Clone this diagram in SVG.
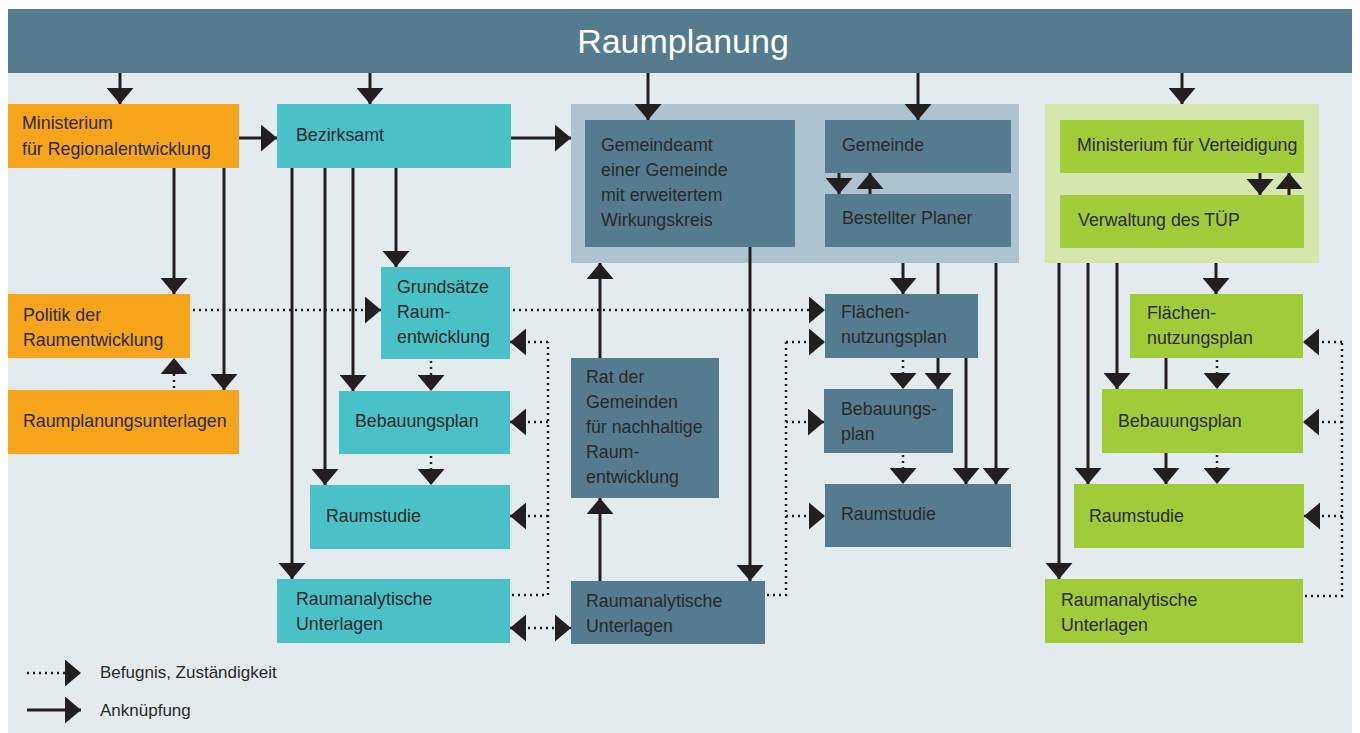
<svg xmlns="http://www.w3.org/2000/svg" width="1360" height="733" viewBox="0 0 1360 733">
<defs>
<style>
.t{font-family:"Liberation Sans",Arial,sans-serif;font-size:17.8px;fill:#2a2a2a}
.lg{font-family:"Liberation Sans",Arial,sans-serif;font-size:17px;fill:#2a2a2a}
.title{font-family:"Liberation Sans",Arial,sans-serif;font-size:34px;fill:#ffffff}
.or{fill:#f7a41d}.te{fill:#49c1c7}.sl{fill:#557b8f}.lsl{fill:#adc4d0}.lgr{fill:#d5e7ae}.gr{fill:#a2cb3a}
.s{stroke:#231f20;stroke-width:3;fill:none}
.d{stroke:#231f20;stroke-width:2.5;fill:none;stroke-dasharray:2 4}
</style>
<marker id="a" viewBox="0 0 16 27" refX="16" refY="13.5" markerWidth="16" markerHeight="27" markerUnits="userSpaceOnUse" orient="auto">
<path d="M0,0 L16,13.5 L0,27 Z" fill="#231f20"/>
</marker>
<marker id="as" viewBox="0 0 16 27" refX="0" refY="13.5" markerWidth="16" markerHeight="27" markerUnits="userSpaceOnUse" orient="auto">
<path d="M16,0 L0,13.5 L16,27 Z" fill="#231f20"/>
</marker>
</defs>
<rect x="0" y="0" width="1360" height="733" fill="#ffffff"/>
<rect x="8" y="9" width="1344" height="724" fill="#e3ebef"/>
<g id="header">
<rect x="8" y="9" width="1344" height="64" class="sl"/>
<text x="683" y="53" text-anchor="middle" class="title">Raumplanung</text>
</g>
<g id="container-gemeinde"><rect x="571" y="104" width="448" height="159" class="lsl"/></g>
<g id="container-tup"><rect x="1045" y="104" width="274" height="159" class="lgr"/></g>
<g id="ministerium-regional"><rect x="8" y="104" width="231" height="64" class="or"/><text class="t" x="22" y="129">Ministerium</text><text class="t" x="22" y="155">für Regionalentwicklung</text></g>
<g id="politik"><rect x="8" y="294" width="182" height="64" class="or"/><text class="t" x="23" y="321">Politik der</text><text class="t" x="23" y="346">Raumentwicklung</text></g>
<g id="raumplanungsunterlagen"><rect x="8" y="390" width="231" height="64" class="or"/><text class="t" x="23" y="427">Raumplanungsunterlagen</text></g>
<g id="bezirksamt"><rect x="277" y="104" width="234" height="64" class="te"/><text class="t" x="296" y="141">Bezirksamt</text></g>
<g id="grundsaetze"><rect x="381" y="267" width="129" height="92" class="te"/><text class="t" x="397" y="293">Grundsätze</text><text class="t" x="397" y="318">Raum-</text><text class="t" x="397" y="343">entwicklung</text></g>
<g id="bebauungsplan-b"><rect x="339" y="391" width="171" height="63" class="te"/><text class="t" x="355" y="427">Bebauungsplan</text></g>
<g id="raumstudie-b"><rect x="310" y="485" width="200" height="64" class="te"/><text class="t" x="326" y="522">Raumstudie</text></g>
<g id="ru-b"><rect x="277" y="579" width="233" height="64" class="te"/><text class="t" x="296" y="605">Raumanalytische</text><text class="t" x="296" y="630">Unterlagen</text></g>
<g id="gemeindeamt"><rect x="585" y="120" width="210" height="127" class="sl"/><text class="t" x="601" y="151">Gemeindeamt</text><text class="t" x="601" y="176">einer Gemeinde</text><text class="t" x="601" y="201">mit erweitertem</text><text class="t" x="601" y="226">Wirkungskreis</text></g>
<g id="gemeinde"><rect x="825" y="120" width="186" height="53" class="sl"/><text class="t" x="842" y="151">Gemeinde</text></g>
<g id="planer"><rect x="825" y="194" width="186" height="53" class="sl"/><text class="t" x="842" y="224">Bestellter Planer</text></g>
<g id="rat"><rect x="571" y="358" width="148" height="140" class="sl"/><text class="t" x="586" y="383">Rat der</text><text class="t" x="586" y="408">Gemeinden</text><text class="t" x="586" y="433">für nachhaltige</text><text class="t" x="586" y="458">Raum-</text><text class="t" x="586" y="483">entwicklung</text></g>
<g id="ru-g"><rect x="571" y="581" width="194" height="63" class="sl"/><text class="t" x="586" y="607">Raumanalytische</text><text class="t" x="586" y="632">Unterlagen</text></g>
<g id="flaechen-g"><rect x="825" y="294" width="153" height="64" class="sl"/><text class="t" x="841" y="318">Flächen-</text><text class="t" x="841" y="343">nutzungsplan</text></g>
<g id="bebauungs-g"><rect x="824" y="389" width="129" height="64" class="sl"/><text class="t" x="841" y="415">Bebauungs-</text><text class="t" x="841" y="440">plan</text></g>
<g id="raumstudie-g"><rect x="825" y="484" width="186" height="63" class="sl"/><text class="t" x="841" y="520">Raumstudie</text></g>
<g id="ministerium-vert"><rect x="1060" y="120" width="244" height="53" class="gr"/><text class="t" x="1077" y="151">Ministerium für Verteidigung</text></g>
<g id="verwaltung"><rect x="1060" y="195" width="244" height="53" class="gr"/><text class="t" x="1078" y="226">Verwaltung des TÜP</text></g>
<g id="flaechen-t"><rect x="1130" y="294" width="173" height="64" class="gr"/><text class="t" x="1147" y="319">Flächen-</text><text class="t" x="1147" y="344">nutzungsplan</text></g>
<g id="bebauungs-t"><rect x="1102" y="389" width="201" height="64" class="gr"/><text class="t" x="1118" y="427">Bebauungsplan</text></g>
<g id="raumstudie-t"><rect x="1074" y="484" width="230" height="64" class="gr"/><text class="t" x="1089" y="522">Raumstudie</text></g>
<g id="ru-t"><rect x="1045" y="579" width="258" height="64" class="gr"/><text class="t" x="1061" y="606">Raumanalytische</text><text class="t" x="1061" y="631">Unterlagen</text></g>
<g id="connectors">
<path class="s" marker-end="url(#a)" d="M120,73 V104"/>
<path class="s" marker-end="url(#a)" d="M370,73 V104"/>
<path class="s" marker-end="url(#a)" d="M648,73 V120"/>
<path class="s" marker-end="url(#a)" d="M918,73 V120"/>
<path class="s" marker-end="url(#a)" d="M1182,73 V104"/>
<path class="s" marker-end="url(#a)" d="M239,138 H277"/>
<path class="s" marker-end="url(#a)" d="M511,138 H571"/>
<path class="s" marker-end="url(#a)" d="M174,168 V294"/>
<path class="s" marker-end="url(#a)" d="M224,168 V390"/>
<path class="s" marker-end="url(#a)" d="M396,168 V267"/>
<path class="s" marker-end="url(#a)" d="M353,168 V391"/>
<path class="s" marker-end="url(#a)" d="M325,168 V485"/>
<path class="s" marker-end="url(#a)" d="M292,168 V579"/>
<path class="s" marker-end="url(#a)" d="M839,173 V194"/>
<path class="s" marker-end="url(#a)" d="M870,194 V173"/>
<path class="s" marker-end="url(#a)" d="M750,247 V581"/>
<path class="s" marker-end="url(#a)" d="M600,581 V498"/>
<path class="s" marker-end="url(#a)" d="M600,358 V263"/>
<path class="s" marker-end="url(#a)" d="M903,263 V294"/>
<path class="s" d="M938,263 V294"/>
<path class="s" marker-end="url(#a)" d="M938,358 V389"/>
<path class="s" marker-end="url(#a)" d="M966,358 V484"/>
<path class="s" marker-end="url(#a)" d="M996,263 V484"/>
<path class="s" marker-end="url(#a)" d="M1260,173 V195"/>
<path class="s" marker-end="url(#a)" d="M1289,195 V173"/>
<path class="s" marker-end="url(#a)" d="M1216,263 V294"/>
<path class="s" marker-end="url(#a)" d="M1117,263 V389"/>
<path class="s" marker-end="url(#a)" d="M1088,263 V484"/>
<path class="s" marker-end="url(#a)" d="M1059,263 V579"/>
<path class="s" d="M1166,358 V389"/>
<path class="s" marker-end="url(#a)" d="M1166,453 V484"/>
<path class="d" marker-end="url(#a)" d="M193,310 H381"/>
<path class="d" marker-end="url(#a)" d="M513,310 H825"/>
<path class="d" marker-end="url(#a)" d="M174,388 V358"/>
<path class="d" marker-end="url(#a)" d="M431,361 V391"/>
<path class="d" marker-end="url(#a)" d="M431,456 V485"/>
<path class="d" d="M512,595 H548 V342"/>
<path class="d" marker-end="url(#a)" d="M548,342 H510"/>
<path class="d" marker-end="url(#a)" d="M548,422 H510"/>
<path class="d" marker-end="url(#a)" d="M548,516 H510"/>
<path class="d" marker-start="url(#as)" marker-end="url(#a)" d="M510,628 H571"/>
<path class="d" d="M767,595 H786 V342"/>
<path class="d" marker-end="url(#a)" d="M786,342 H825"/>
<path class="d" marker-end="url(#a)" d="M786,422 H824"/>
<path class="d" marker-end="url(#a)" d="M786,516 H825"/>
<path class="d" marker-end="url(#a)" d="M903,360 V389"/>
<path class="d" marker-end="url(#a)" d="M903,455 V484"/>
<path class="d" d="M1305,596 H1342 V342"/>
<path class="d" marker-end="url(#a)" d="M1342,342 H1303"/>
<path class="d" marker-end="url(#a)" d="M1342,422 H1303"/>
<path class="d" marker-end="url(#a)" d="M1342,516 H1304"/>
<path class="d" marker-end="url(#a)" d="M1217,360 V389"/>
<path class="d" marker-end="url(#a)" d="M1217,455 V484"/>
</g>
<g id="legend">
<path class="d" marker-end="url(#a)" d="M27,673 H81"/>
<path class="s" marker-end="url(#a)" d="M27,710 H81"/>
<text class="lg" x="100" y="678">Befugnis, Zuständigkeit</text>
<text class="lg" x="100" y="716">Anknüpfung</text>
</g>
</svg>
